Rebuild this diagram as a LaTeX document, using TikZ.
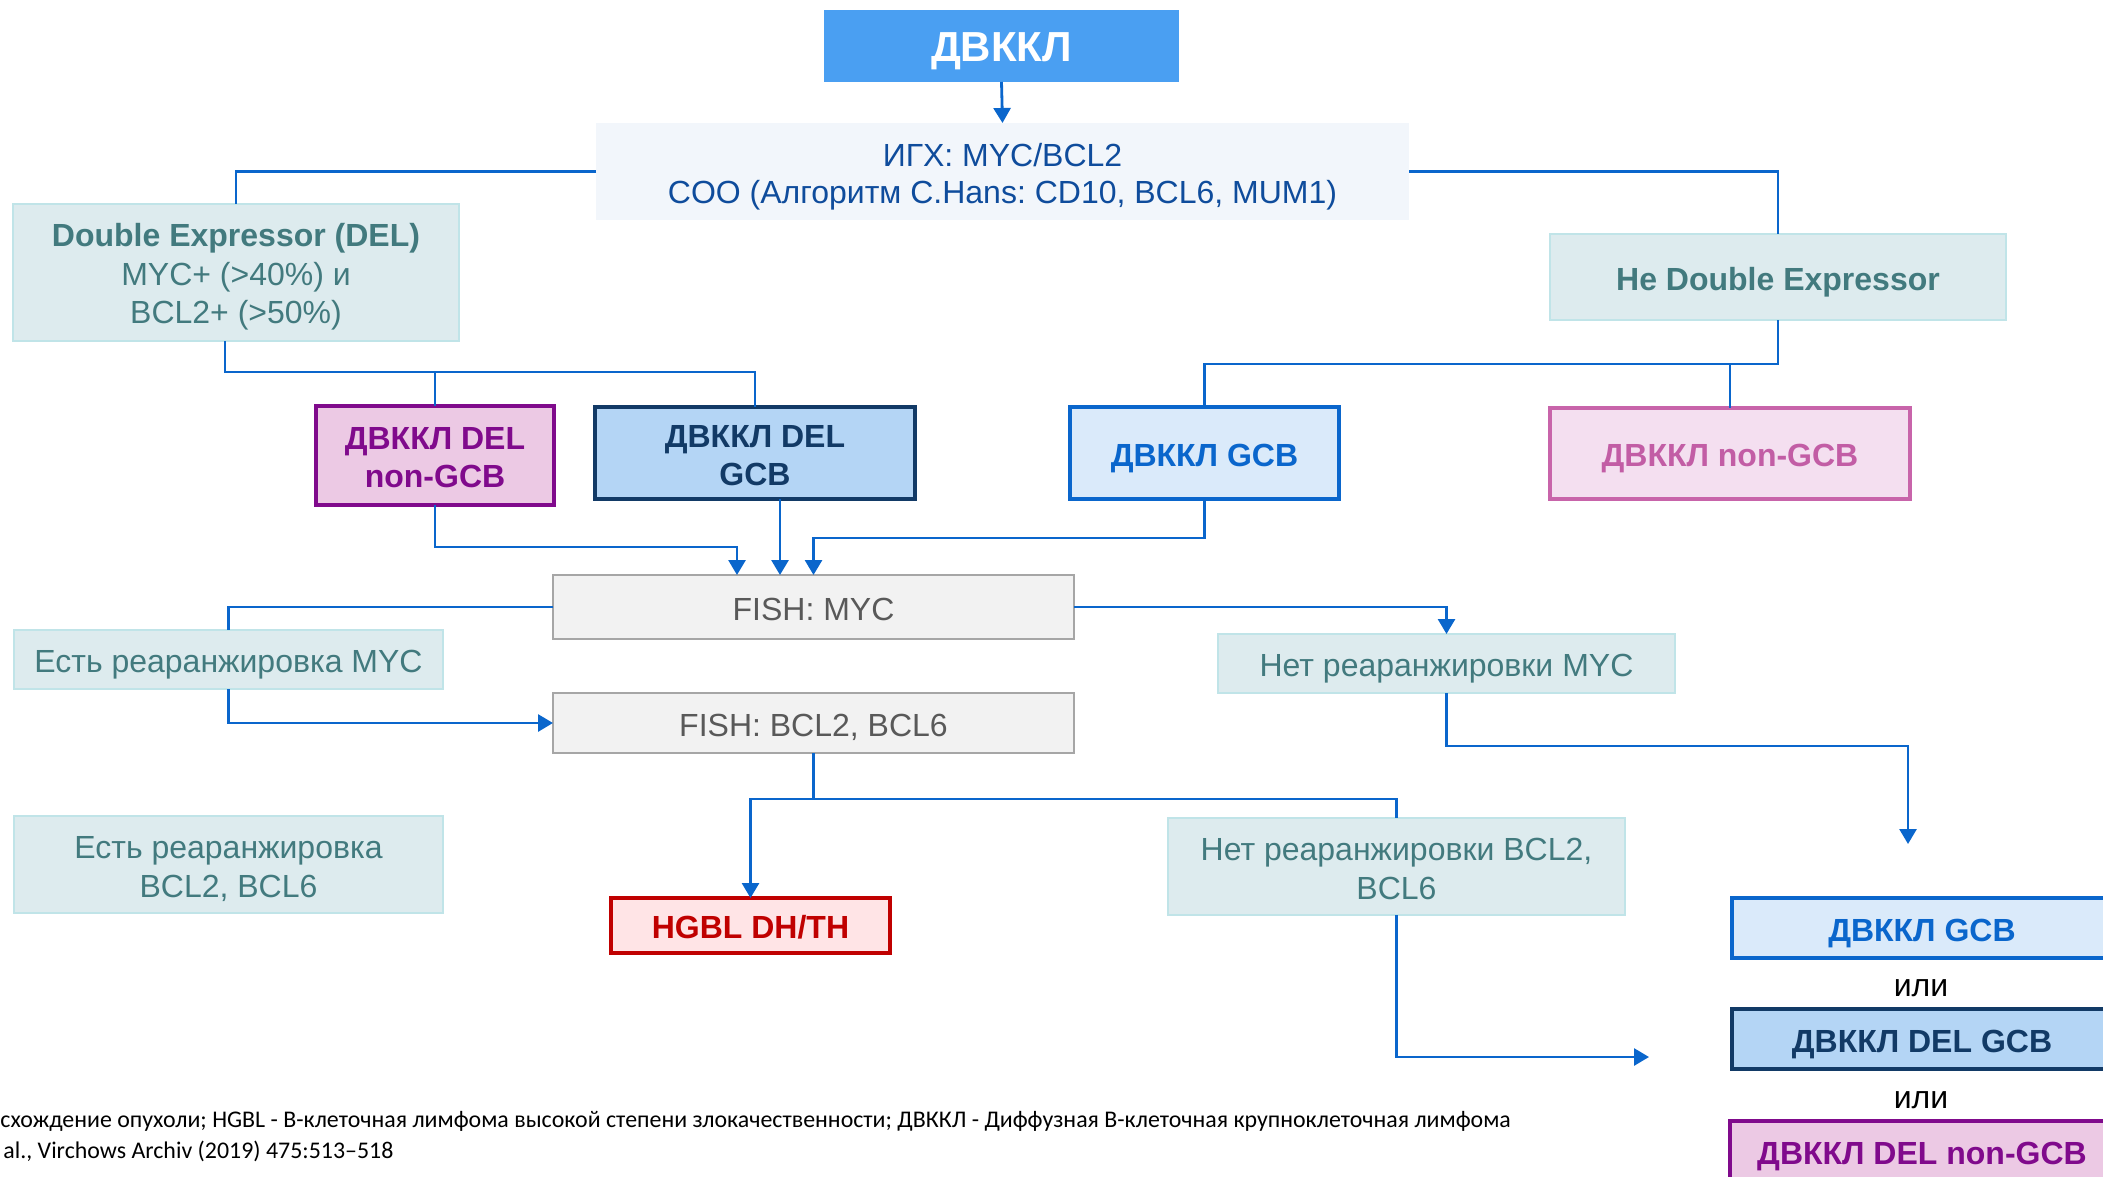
\documentclass[tikz,border=0pt]{standalone}
\usepackage{fontspec}
\setmainfont{Liberation Sans}
\newfontfamily\fnfont{Carlito}
\usetikzlibrary{arrows.meta}
\frenchspacing
\definecolor{conn}{RGB}{10,102,204}
\definecolor{topf}{RGB}{74,159,242}
\definecolor{igxf}{RGB}{242,246,251}
\definecolor{igxt}{RGB}{15,76,156}
\definecolor{tealf}{RGB}{221,235,238}
\definecolor{tealb}{RGB}{192,228,232}
\definecolor{tealt}{RGB}{66,122,126}
\definecolor{purf}{RGB}{236,201,228}
\definecolor{purb}{RGB}{128,10,140}
\definecolor{navyf}{RGB}{180,213,245}
\definecolor{navyb}{RGB}{18,58,102}
\definecolor{bluef}{RGB}{218,234,250}
\definecolor{blueb}{RGB}{10,102,204}
\definecolor{pinkf}{RGB}{244,223,240}
\definecolor{pinkb}{RGB}{200,100,170}
\definecolor{pinkt}{RGB}{194,93,165}
\definecolor{grayf}{RGB}{242,242,242}
\definecolor{grayb}{RGB}{166,166,166}
\definecolor{grayt}{RGB}{89,89,89}
\definecolor{redf}{RGB}{255,228,230}
\definecolor{redb}{RGB}{192,0,0}
% \bx[text shift]{name}{x1}{y1}{x2}{y2}{style}{text}
\newcommand\bx[8][2.8pt]{\node[#7, minimum width={(#5-#3)*0.5pt}, minimum height={(#6-#4)*0.5pt}] (#2) at ({(#3+#5)/2},{(#4+#6)/2}) {\raisebox{-#1}[\height][\depth]{\begin{tabular}{@{}c@{}}#8\end{tabular}}};}
\tikzset{
  base/.style={inner sep=0pt, outer sep=0pt, rectangle},
  topbox/.style={base, fill=topf, text=white, font=\bfseries\fontsize{21}{25}\selectfont},
  igxbox/.style={base, fill=igxf, text=igxt, font=\fontsize{16}{18.5}\selectfont},
  tealbox/.style={base, fill=tealf, draw=tealb, line width=1pt, text=tealt, font=\fontsize{16}{19.3}\selectfont},
  purbox/.style={base, fill=purf, draw=purb, line width=1.8pt, text=purb, font=\bfseries\fontsize{16}{19}\selectfont},
  navybox/.style={base, fill=navyf, draw=navyb, line width=1.8pt, text=navyb, font=\bfseries\fontsize{16}{19}\selectfont},
  bluebox/.style={base, fill=bluef, draw=blueb, line width=1.8pt, text=blueb, font=\bfseries\fontsize{16}{19}\selectfont},
  pinkbox/.style={base, fill=pinkf, draw=pinkb, line width=1.8pt, text=pinkt, font=\bfseries\fontsize{16}{19}\selectfont},
  graybox/.style={base, fill=grayf, draw=grayb, line width=1.2pt, text=grayt, font=\fontsize{16}{19}\selectfont},
  redbox/.style={base, fill=redf, draw=redb, line width=1.8pt, text=redb, font=\bfseries\fontsize{16}{19}\selectfont},
  conline/.style={draw=conn, line width=1.4pt},
  arr/.style={conline, -{Triangle[width=8.5pt,length=7.5pt]}},
  ortext/.style={inner sep=0pt, font=\fontsize{16}{19}\selectfont, text=black},
  fntext/.style={inner sep=0pt, anchor=base west, font=\fnfont\fontsize{11.95}{14}\selectfont, text=black}
}
\begin{document}
\begin{tikzpicture}[x=0.5pt,y=-0.5pt]
\useasboundingbox (0,0) rectangle (2103,1177);
\clip (0,0) rectangle (2103,1177);
\fill[white] (0,0) rectangle (2103,1177);

\bx[2.6pt]{top}{824}{10}{1179}{82}{topbox}{ДВККЛ}
\bx[3pt]{igx}{596}{123}{1409}{220}{igxbox}{ИГХ: MYC/BCL2\\COO (Алгоритм C.Hans: CD10, BCL6, MUM1)}
\bx[2.4pt]{del}{13}{204}{459}{341}{tealbox}{\textbf{Double Expressor (DEL)}\\MYC+ (>40\%) и\\BCL2+ (>50\%)}
\bx{nedel}{1550}{234}{2006}{320}{tealbox}{\textbf{Не Double Expressor}}
\bx{delnon}{316}{406}{554}{505}{purbox}{ДВККЛ DEL\\non-GCB}
\bx{delgcb}{595}{407}{915}{499}{navybox}{ДВККЛ DEL\\GCB}
\bx{gcb}{1070}{407}{1339}{499}{bluebox}{ДВККЛ GCB}
\bx{nongcb}{1550}{408}{1910}{499}{pinkbox}{ДВККЛ non-GCB}
\bx{fish1}{553}{575}{1074}{639}{graybox}{FISH: MYC}
\bx{fish2}{553}{693}{1074}{753}{graybox}{FISH: BCL2, BCL6}
\bx{estmyc}{14}{630}{443}{689}{tealbox}{Есть реаранжировка MYC}
\bx{netmyc}{1218}{634}{1675}{693}{tealbox}{Нет реаранжировки MYC}
\bx{estbcl}{14}{816}{443}{913}{tealbox}{Есть реаранжировка\\BCL2, BCL6}
\bx{netbcl}{1168}{818}{1625}{915}{tealbox}{Нет реаранжировки BCL2,\\BCL6}
\bx{hgbl}{611}{898}{890}{953}{redbox}{HGBL DH/TH}
\bx{gcbr}{1732}{898}{2112}{958}{bluebox}{ДВККЛ GCB}
\bx{delgcbr}{1732}{1009}{2112}{1069}{navybox}{ДВККЛ DEL GCB}
\bx{delnonr}{1730}{1121}{2114}{1181}{purbox}{ДВККЛ DEL non-GCB}
\node[ortext] (or1) at (1921,988) {или};
\node[ortext] (or2) at (1921,1100) {или};

\coordinate (j1) at (delnon.north |- 0,372);
\coordinate (j2) at (nongcb.north |- 0,364);
\coordinate (t1) at (1908,844);
\coordinate (t2) at (1649,1057);

\draw[arr] (top.south) -- (igx.north);
\draw[conline] (igx.west) -| (del.north);
\draw[conline] (igx.east) -| (nedel.north);
\draw[conline] (225,0 |- del.south) |- (j1) -| (delgcb.north);
\draw[conline] (j1) -- (delnon.north);
\draw[conline] (nedel.south) |- (j2) -| (gcb.north);
\draw[conline] (j2) -- (nongcb.north);
\draw[arr] (delnon.south) -- ++(0,42) -| (fish1.north -| 737,0);
\draw[arr] (delgcb.south -| 780,0) -- (fish1.north -| 780,0);
\draw[arr] (gcb.south) -- ++(0,39) -| (fish1.north);
\draw[conline] (fish1.west) -| (estmyc.north);
\draw[arr] (estmyc.south) |- (fish2.west);
\draw[arr] (fish1.east) -| (netmyc.north);
\draw[arr] (netmyc.south) -- ++(0,53) -| (t1);
\draw[arr] (fish2.south) -- ++(0,46) -| (hgbl.north);
\draw[conline] (fish2.south) -- ++(0,46) -| (netbcl.north);
\draw[arr] (netbcl.south) |- (t2);

\node[fntext] (fn1) at (0,1127) {схождение опухоли; HGBL - В-клеточная лимфома высокой степени злокачественности; ДВККЛ - Диффузная В-клеточная крупноклеточная лимфома};
\node[fntext] (fn2) at (3,1158) {al., Virchows Archiv (2019) 475:513–518};
\end{tikzpicture}
\end{document}
